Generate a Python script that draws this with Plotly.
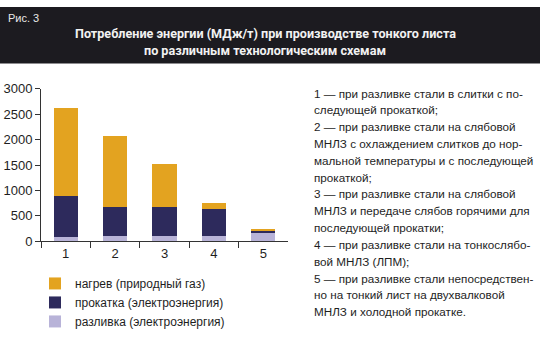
import plotly.graph_objects as go

W, H = 540, 341

categories = ["1", "2", "3", "4", "5"]
casting = [90, 100, 100, 100, 170]       # разливка (электроэнергия)
rolling = [800, 570, 580, 530, 40]       # прокатка (электроэнергия)
heating = [1730, 1410, 840, 120, 40]     # нагрев (природный газ)

series_names = ["разливка (электроэнергия)", "прокатка (электроэнергия)", "нагрев (природный газ)"]
colors = ["#b8b3d8", "#2d2a5c", "#e3a320"]

y_ticks = [0, 500, 1000, 1500, 2000, 2500, 3000]

title_lines = ["Потребление энергии (МДж/т) при производстве тонкого листа",
               "по различным технологическим схемам"]
fig_label = "Рис. 3"

notes = [
    "1 — при разливке стали в слитки с по-",
    "следующей прокаткой;",
    "2 — при разливке стали на слябовой",
    "МНЛЗ с охлаждением слитков до нор-",
    "мальной температуры и с последующей",
    "прокаткой;",
    "3 — при разливке стали на слябовой",
    "МНЛЗ и передаче слябов горячими для",
    "последующей прокатки;",
    "4 — при разливке стали на тонкослябо-",
    "вой МНЛЗ (ЛПМ);",
    "5 — при разливке стали непосредствен-",
    "но на тонкий лист на двухвалковой",
    "МНЛЗ и холодной прокатке.",
]

def px(x):
    return x / W

def py(y):
    return 1 - y / H

fig = go.Figure()
for vals, name, col in zip([casting, rolling, heating], series_names, colors):
    fig.add_trace(go.Bar(x=categories, y=vals, name=name, marker=dict(color=col, line=dict(width=0))))

FONT = "Liberation Sans, Arial, sans-serif"

annotations = []
annotations.append(dict(text=fig_label, x=px(6), y=py(12), xref="paper", yref="paper",
                        xanchor="left", yanchor="middle", showarrow=False,
                        font=dict(family=FONT, size=11, color="#e8e8e8")))
for i, t in enumerate(title_lines):
    annotations.append(dict(text="<b>" + t + "</b>", x=px(265), y=py(28 + 17 * i), xref="paper", yref="paper",
                            xanchor="center", yanchor="middle", showarrow=False,
                            font=dict(family="Roboto, Arial, sans-serif", size=12.6, color="#f2f2f2")))
for i, t in enumerate(notes):
    annotations.append(dict(text=t, x=px(312), y=py(90 + 17.6 * i), xref="paper", yref="paper",
                            xanchor="left", yanchor="middle", showarrow=False,
                            font=dict(family=FONT, size=11.7, color="#1e1e1e")))

fig.update_layout(
    width=W, height=H,
    margin=dict(l=0, r=0, t=0, b=0),
    paper_bgcolor="white", plot_bgcolor="white",
    barmode="stack", bargap=0.51,
    showlegend=True,
    legend=dict(x=px(35), y=py(274), xanchor="left", yanchor="top",
                traceorder="reversed", font=dict(family=FONT, size=12, color="#1e1e1e"),
                bgcolor="rgba(0,0,0,0)", itemclick=False),
    xaxis=dict(domain=[px(41), px(288)], range=[-0.5, 4.5], type="category",
               showline=True, linecolor="#333", linewidth=1,
               ticks="outside", tickson="boundaries", ticklen=6, tickcolor="#333",
               showgrid=False, tickfont=dict(family=FONT, size=13, color="#1e1e1e")),
    yaxis=dict(domain=[py(245), py(85.7)], range=[0, 3000], tickvals=y_ticks,
               showline=True, linecolor="#333", linewidth=1,
               ticks="outside", ticklen=5, tickcolor="#333",
               showgrid=False, zeroline=False,
               tickfont=dict(family=FONT, size=13, color="#1e1e1e")),
    shapes=[dict(type="rect", xref="paper", yref="paper", x0=0, x1=1, y0=py(59), y1=1,
                 fillcolor="#1c1b20", line=dict(width=0), layer="below")],
    annotations=annotations,
)

fig.write_html("out.html")
